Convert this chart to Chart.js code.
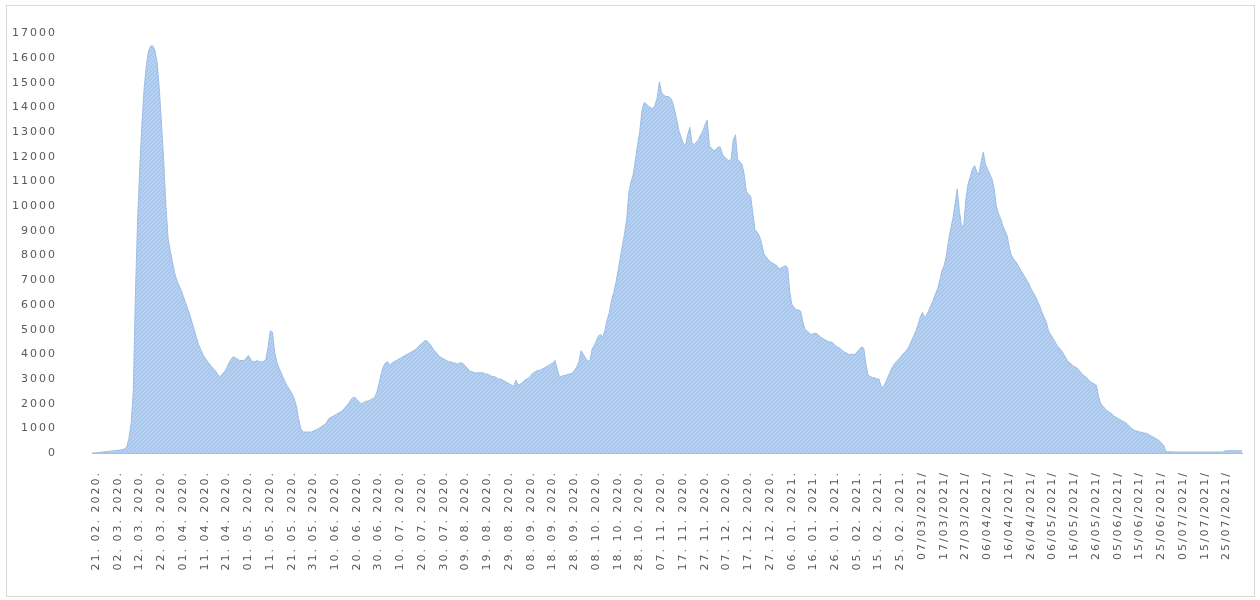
<!DOCTYPE html>
<html>
<head>
<meta charset="utf-8">
<title>Daily cases</title>
<script src="https://cdn.jsdelivr.net/npm/chart.js@4.4.1/dist/chart.umd.min.js"></script>
<style>
	html, body { margin:0; padding:0; background:#fff; }
	#wrap { width:1260px; height:600px; }
</style>
</head>
<body>
<div id="wrap"><canvas id="chart" width="1260" height="600"></canvas></div>
<script>
// first day of the series, one value per day after it
const START_DATE = '2020-02-21';

// tick labels, one every 10 days, written as in the original sheet
const tickLabels = [
	'21. 02. 2020.','02. 03. 2020.','12. 03. 2020.','22. 03. 2020.','01. 04. 2020.','11. 04. 2020.',
	'21. 04. 2020.','01. 05. 2020.','11. 05. 2020.','21. 05. 2020.','31. 05. 2020.','10. 06. 2020.',
	'20. 06. 2020.','30. 06. 2020.','10. 07. 2020.','20. 07. 2020.','30. 07. 2020.','09. 08. 2020.',
	'19. 08. 2020.','29. 08. 2020.','08. 09. 2020.','18. 09. 2020.','28. 09. 2020.','08. 10. 2020.',
	'18. 10. 2020.','28. 10. 2020.','07. 11. 2020.','17. 11. 2020.','27. 11. 2020.','07. 12. 2020.',
	'17. 12. 2020.','27. 12. 2020.','06. 01. 2021.','16. 01. 2021.','26. 01. 2021.','05. 02. 2021.',
	'15. 02. 2021.','25. 02. 2021.','07/03/2021/','17/03/2021/','27/03/2021/','06/04/2021/',
	'16/04/2021/','26/04/2021/','06/05/2021/','16/05/2021/','26/05/2021/','05/06/2021/',
	'15/06/2021/','25/06/2021/','05/07/2021/','15/07/2021/','25/07/2021/'
];

// daily values, one row per 10 days
const dailyValues = [
	0,5,10,20,30,40,50,60,70,80,
	90,100,110,120,140,160,250,600,1200,2500,
	6500,9500,11600,13400,14800,15700,16300,16500,16500,16300,
	15800,14700,13300,11800,10000,8700,8200,7750,7300,7000,
	6800,6600,6350,6100,5850,5600,5300,5000,4700,4400,
	4200,4000,3850,3720,3620,3500,3400,3300,3150,3100,
	3200,3300,3450,3650,3800,3900,3850,3800,3750,3750,
	3750,3850,3950,3800,3700,3700,3750,3700,3700,3700,
	3800,4300,4950,4900,4100,3700,3450,3250,3050,2850,
	2700,2550,2400,2200,1900,1400,1000,850,850,850,
	850,850,900,930,980,1030,1100,1150,1250,1400,
	1450,1500,1550,1600,1650,1700,1800,1900,2000,2150,
	2250,2250,2150,2050,2000,2050,2100,2100,2150,2200,
	2250,2450,2800,3200,3500,3650,3700,3550,3650,3700,
	3750,3800,3850,3900,3950,4000,4050,4100,4150,4200,
	4300,4400,4450,4550,4550,4450,4350,4200,4100,4000,
	3900,3850,3800,3750,3700,3700,3650,3650,3600,3650,
	3650,3600,3500,3400,3300,3300,3250,3250,3250,3250,
	3250,3200,3200,3150,3100,3100,3050,3000,3000,2950,
	2900,2850,2800,2750,2700,2950,2750,2800,2850,2950,
	3000,3050,3150,3250,3300,3350,3350,3400,3450,3500,
	3550,3600,3650,3750,3400,3100,3100,3150,3150,3200,
	3200,3250,3350,3500,3700,4150,4000,3850,3750,3700,
	4200,4350,4550,4750,4800,4700,5000,5400,5700,6200,
	6500,6900,7400,7900,8400,8900,9500,10600,11000,11300,
	11900,12500,13050,13900,14200,14150,14050,14000,13950,14100,
	14400,15050,14600,14500,14450,14450,14400,14250,13900,13500,
	13050,12800,12550,12450,12900,13200,12550,12500,12600,12700,
	12900,13050,13300,13500,12450,12350,12250,12300,12400,12400,
	12100,12000,11900,11850,11900,12700,12900,11900,11800,11700,
	11300,10600,10500,10400,9700,9050,8950,8800,8500,8100,
	7950,7850,7750,7700,7650,7600,7450,7500,7550,7600,
	7500,6500,6000,5900,5800,5800,5750,5300,5000,4950,
	4850,4800,4850,4850,4800,4700,4650,4600,4550,4500,
	4500,4450,4350,4300,4250,4150,4100,4050,4000,4000,
	4000,4000,4100,4200,4300,4250,3600,3150,3100,3050,
	3050,3000,3000,2700,2650,2850,3050,3250,3450,3600,
	3700,3800,3900,4000,4100,4200,4350,4550,4750,4950,
	5200,5500,5700,5500,5600,5800,6000,6200,6450,6650,
	7000,7400,7600,8000,8600,9100,9500,10100,10700,9800,
	9200,9200,10300,10900,11200,11500,11650,11400,11300,11800,
	12200,11700,11500,11300,11100,10700,10000,9700,9500,9200,
	9000,8800,8300,8000,7850,7750,7600,7450,7300,7150,
	7000,6850,6650,6500,6350,6150,5950,5700,5500,5300,
	4950,4800,4650,4500,4350,4250,4150,4000,3850,3700,
	3650,3550,3500,3450,3350,3250,3150,3100,3000,2900,
	2850,2800,2750,2300,2000,1900,1800,1700,1650,1600,
	1500,1450,1400,1350,1300,1250,1200,1100,1000,950,
	900,880,850,830,810,800,750,700,650,600,
	550,500,400,300,60,50,50,45,45,40,
	40,40,40,40,40,40,40,40,40,40,
	40,40,40,40,40,40,40,40,40,40,
	40,80,90,90,90,90,90,90,90,90
];

const Y_MAX = 17000;
const Y_STEP = 1000;
const TICK_EVERY = 10;

// one category per day
function buildDays(){
	const d0 = new Date(START_DATE + 'T00:00:00Z');
	return dailyValues.map((_, i) => {
		const d = new Date(d0.getTime() + i * 86400000);
		const dd = String(d.getUTCDate()).padStart(2,'0');
		const mm = String(d.getUTCMonth()+1).padStart(2,'0');
		return dd + '. ' + mm + '. ' + d.getUTCFullYear() + '.';
	});
}

// pale blue diagonal hatch like the sheet's pattern fill
function hatchPattern(ctx){
	const c = document.createElement('canvas');
	c.width = 4; c.height = 4;
	const g = c.getContext('2d');
	g.fillStyle = '#abc8eb';
	g.fillRect(0,0,4,4);
	g.fillStyle = '#c3d8f2';
	for(let i=0;i<4;i++) g.fillRect(i, 3-i, 1, 1);
	return ctx.createPattern(c, 'repeat');
}

const frame = {
	id: 'frame',
	beforeDraw(chart){
		const ctx = chart.ctx;
		ctx.save();
		ctx.fillStyle = '#fff';
		ctx.fillRect(0,0,chart.width,chart.height);
		ctx.strokeStyle = '#d9d9d9';
		ctx.lineWidth = 1;
		ctx.strokeRect(6.5, 5.5, 1248, 591);
		ctx.restore();
		ctx.letterSpacing = '2px';
	},
	beforeLayout(chart){
		chart.ctx.letterSpacing = '2px';
	}
};

const canvas = document.getElementById('chart');
const ctx = canvas.getContext('2d');

new Chart(canvas, {
	type: 'line',
	data: {
		labels: buildDays(),
		datasets: [{
			data: dailyValues,
			fill: 'origin',
			backgroundColor: hatchPattern(ctx),
			borderColor: '#9dbde6',
			borderWidth: 1,
			pointRadius: 0,
			pointHoverRadius: 0,
			tension: 0
		}]
	},
	plugins: [frame],
	options: {
		responsive: false,
		animation: false,
		events: [],
		layout: { padding: { top: 25, right: 18, left: 0, bottom: 0 } },
		plugins: { legend: { display: false }, tooltip: { enabled: false } },
		scales: {
			x: {
				type: 'category',
				offset: false,
				grid: { display: false },
				border: { display: true, color: '#a3bfe3', width: 1 },
				afterFit(scale){ scale.height = 147; },
				ticks: {
					autoSkip: false,
					minRotation: 90,
					maxRotation: 90,
					padding: 10,
					labelOffset: 4,
					color: '#595959',
					font: { family: 'DejaVu Sans', size: 11 },
					callback(value, index){
						return index % TICK_EVERY === 0 ? tickLabels[index / TICK_EVERY] : null;
					}
				}
			},
			y: {
				min: 0,
				max: Y_MAX,
				grid: { display: false },
				border: { display: false },
				afterFit(scale){ scale.width = 92; },
				ticks: {
					stepSize: Y_STEP,
					padding: 27,
					color: '#595959',
					font: { family: 'DejaVu Sans', size: 11 },
					callback: v => String(v)
				}
			}
		}
	}
});
</script>
</body>
</html>
